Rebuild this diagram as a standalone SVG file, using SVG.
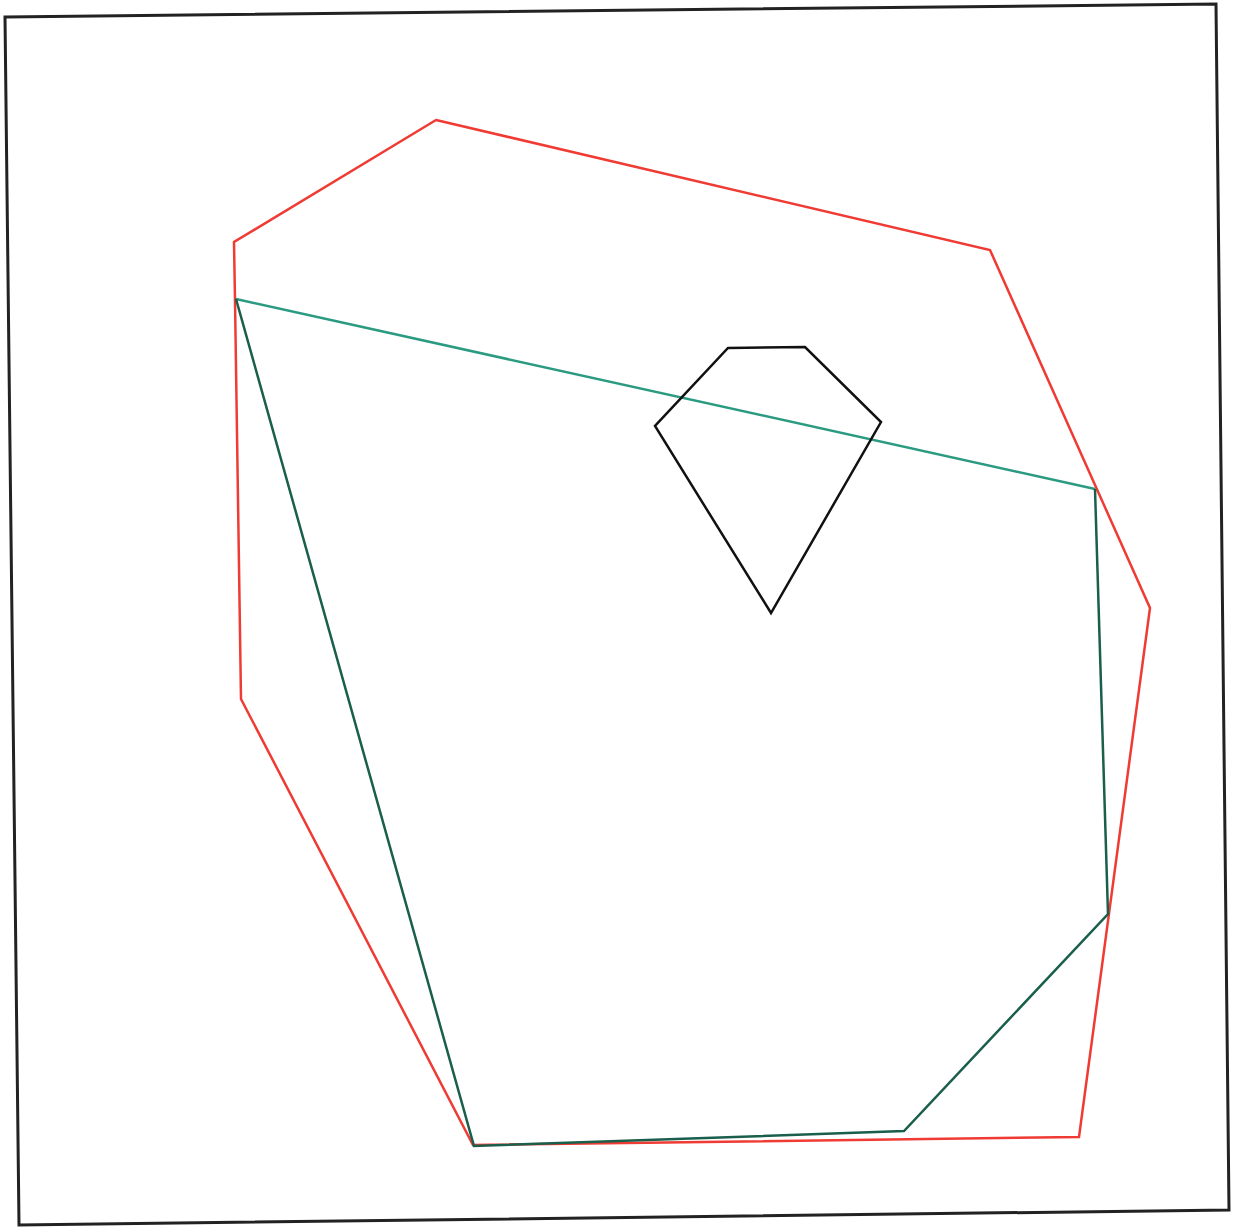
<svg xmlns="http://www.w3.org/2000/svg" width="1239" height="1227" viewBox="0 0 1239 1227">
<style>
.s{fill:none;stroke-linejoin:miter;stroke-width:2.5}
.frame{stroke:#222;stroke-width:3}
.red{stroke:#ef3b33}
.green{stroke:#1a5e4c}
.blk{stroke:#111}
</style>
<rect width="1239" height="1227" fill="#fff"/>
<g id="frame"><polygon class="s frame" points="5,17 1216,4 1229,1210 19,1225"/></g>
<g id="red-polygon"><polygon class="s red" points="436,120 990,250 1150,608 1079,1137 473,1145 241,699 235,300 234,242"/></g>
<g id="green-polygon">
<polyline class="s" stroke="#2a9a80" points="236,299 1095,489"/>
<polyline class="s green" points="1095,489 1108,914 904,1131 474,1146 236,299"/>
</g>
<g id="black-pentagon"><polygon class="s blk" points="728,348 805,347 881,422 771,613 655,426"/></g>
</svg>
